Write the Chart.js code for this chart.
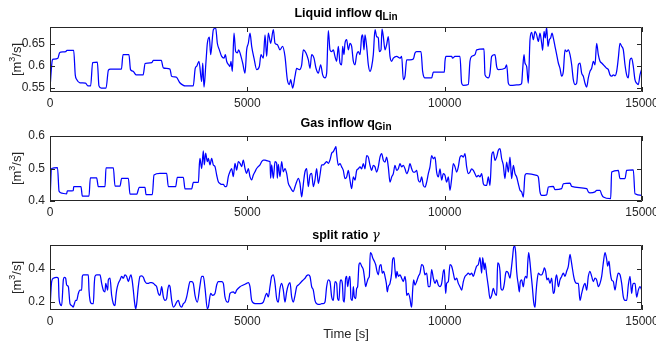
<!DOCTYPE html>
<html>
<head>
<meta charset="utf-8">
<script src="https://cdn.jsdelivr.net/npm/chart.js@4.4.1/dist/chart.umd.min.js"></script>
<style>
  html, body { margin: 0; padding: 0; background: #ffffff; }
  #wrap { position: relative; width: 656px; height: 344px; overflow: hidden; background: #ffffff; }
  #wrap canvas { position: absolute; left: 0; top: 0; }
</style>
</head>
<body>
<div id="wrap">
  <canvas id="liquid" width="656" height="344"></canvas>
  <canvas id="gas" width="656" height="344"></canvas>
  <canvas id="split" width="656" height="344"></canvas>
</div>
<script>
// ---- time axis ----
const timeTicks = [0, 5000, 10000, 15000];
const timeTickLabels = ['0', '5000', '10000', '15000'];

// ---- liquid inflow q_Lin [m^3/s] ----
const tLiquid = [0,60,90,200,240,270,400,430,600,640,680,760,900,960,1030,1080,1200,1240,1300,1420,1480,1530,1810,1850,2000,2040,2110,2180,2360,2410,2470,2580,2620,2820,2870,3040,3080,3200,3290,3380,3420,3630,3680,3720,3775,3843,3870,3902,3953,3987,4037,4071,4139,4198,4240,4291,4350,4409,4443,4476,4527,4561,4586,4620,4662,4704,4747,4781,4814,4882,4941,4983,5025,5068,5110,5169,5237,5304,5346,5405,5448,5490,5532,5591,5659,5701,5760,5828,5895,5954,6014,6064,6098,6149,6208,6250,6318,6377,6419,6486,6546,6588,6630,6689,6740,6799,6858,6909,6968,7010,7052,7094,7137,7179,7221,7263,7305,7348,7390,7415,7449,7474,7517,7559,7601,7643,7686,7728,7770,7812,7855,7897,7922,7956,7981,8023,8066,8108,8150,8192,8235,8277,8319,8344,8387,8412,8446,8488,8530,8572,8615,8657,8699,8784,8868,8910,8953,8995,9037,9121,9206,9248,9290,9400,9442,9501,9670,9713,9991,10008,10034,10177,10200,10260,10388,10430,10473,10599,10641,10684,10768,10811,10996,11022,11106,11148,11191,11275,11317,11360,11528,11571,11613,11655,11909,11951,11976,12010,12035,12078,12120,12162,12204,12246,12289,12331,12373,12415,12458,12483,12517,12550,12584,12618,12652,12686,12720,12753,12795,12838,12880,12922,12964,13007,13049,13091,13133,13176,13218,13260,13302,13344,13387,13429,13471,13513,13556,13598,13640,13682,13724,13767,13809,13851,13893,13936,13978,14020,14062,14105,14147,14189,14231,14273,14315,14358,14400,14442,14484,14527,14569,14611,14653,14695,14738,14780,14822,14864,14907,14949,15000];
const qLiquid = [0.550,0.614,0.616,0.618,0.630,0.632,0.633,0.636,0.636,0.580,0.569,0.562,0.561,0.555,0.555,0.608,0.609,0.555,0.550,0.550,0.591,0.593,0.593,0.626,0.626,0.592,0.588,0.580,0.580,0.606,0.607,0.608,0.613,0.613,0.596,0.593,0.577,0.575,0.562,0.556,0.555,0.555,0.595,0.600,0.611,0.565,0.607,0.552,0.611,0.652,0.666,0.626,0.683,0.687,0.652,0.637,0.622,0.618,0.626,0.611,0.603,0.599,0.611,0.588,0.675,0.633,0.630,0.637,0.630,0.607,0.584,0.637,0.652,0.675,0.645,0.618,0.592,0.599,0.626,0.618,0.671,0.622,0.675,0.652,0.683,0.652,0.649,0.637,0.645,0.622,0.569,0.558,0.569,0.550,0.577,0.595,0.592,0.603,0.637,0.630,0.614,0.595,0.626,0.618,0.595,0.584,0.603,0.580,0.573,0.584,0.681,0.637,0.633,0.637,0.622,0.611,0.645,0.607,0.603,0.645,0.626,0.652,0.660,0.637,0.652,0.645,0.611,0.603,0.626,0.633,0.626,0.667,0.671,0.637,0.671,0.645,0.603,0.588,0.599,0.626,0.683,0.667,0.664,0.633,0.637,0.684,0.667,0.637,0.649,0.667,0.622,0.611,0.618,0.622,0.618,0.622,0.569,0.577,0.614,0.614,0.616,0.630,0.633,0.633,0.588,0.573,0.573,0.586,0.586,0.611,0.622,0.622,0.618,0.622,0.622,0.561,0.556,0.558,0.611,0.622,0.626,0.637,0.639,0.580,0.573,0.584,0.622,0.626,0.599,0.592,0.595,0.603,0.561,0.556,0.558,0.561,0.592,0.626,0.607,0.599,0.561,0.660,0.677,0.660,0.679,0.671,0.656,0.675,0.652,0.636,0.679,0.664,0.688,0.645,0.660,0.664,0.675,0.664,0.645,0.626,0.607,0.595,0.577,0.588,0.637,0.633,0.637,0.626,0.603,0.569,0.558,0.561,0.603,0.607,0.584,0.577,0.561,0.552,0.573,0.588,0.595,0.611,0.603,0.652,0.626,0.611,0.607,0.603,0.599,0.595,0.592,0.580,0.577,0.580,0.578,0.588,0.618,0.652,0.645,0.637,0.603,0.580,0.573,0.614,0.618,0.599,0.569,0.561,0.558,0.580,0.595];
const liquidTicks = [0.55, 0.6, 0.65];
const liquidTickLabels = ['0.55', '0.6', '0.65'];

// ---- gas inflow q_Gin [m^3/s] ----
const tGas = [0,40,190,230,300,420,440,590,600,785,819,988,1022,1182,1225,1394,1419,1605,1647,1774,1816,1985,2027,2196,2263,2407,2432,2593,2635,2787,2956,2998,3184,3226,3378,3421,3590,3632,3760,3784,3800,3843,3885,3910,3944,3986,4012,4054,4096,4138,4180,4223,4265,4307,4349,4392,4434,4476,4518,4560,4603,4645,4687,4729,4772,4814,4856,4898,4941,4983,5025,5067,5110,5152,5194,5236,5278,5321,5363,5405,5447,5490,5532,5574,5591,5616,5659,5701,5743,5760,5785,5827,5870,5912,5954,5996,6039,6081,6123,6165,6208,6250,6292,6334,6376,6402,6436,6461,6503,6545,6588,6630,6672,6714,6756,6799,6841,6883,6925,6968,7010,7052,7094,7137,7179,7221,7246,7263,7305,7348,7390,7432,7474,7517,7559,7601,7643,7686,7728,7770,7812,7855,7897,7939,7981,8023,8066,8108,8150,8192,8235,8277,8319,8361,8404,8446,8488,8530,8572,8615,8657,8699,8741,8784,8826,8868,8910,8953,8995,9037,9079,9121,9164,9206,9248,9290,9333,9375,9417,9459,9501,9544,9586,9628,9670,9713,9755,9797,9839,9882,9924,9966,10008,10050,10093,10135,10177,10219,10262,10304,10346,10388,10430,10473,10515,10557,10599,10641,10684,10726,10768,10811,10853,10895,10937,10980,11022,11064,11106,11148,11191,11233,11275,11317,11360,11402,11444,11486,11528,11571,11613,11655,11697,11740,11782,11824,11866,11909,11951,11993,12035,12078,12331,12373,12415,12458,12584,12627,12753,12795,12964,13007,13176,13218,13598,13640,13682,13809,13851,13936,13978,14020,14206,14231,14400,14442,14569,14611,14780,14822,15000];
const qGas = [0.400,0.500,0.503,0.430,0.424,0.422,0.431,0.432,0.444,0.444,0.415,0.415,0.471,0.471,0.444,0.444,0.502,0.502,0.446,0.446,0.470,0.470,0.421,0.421,0.442,0.442,0.420,0.420,0.480,0.485,0.485,0.444,0.444,0.473,0.473,0.437,0.437,0.457,0.457,0.511,0.531,0.500,0.554,0.511,0.547,0.521,0.531,0.511,0.531,0.511,0.506,0.480,0.459,0.454,0.451,0.451,0.444,0.446,0.475,0.490,0.500,0.475,0.516,0.495,0.521,0.516,0.506,0.526,0.500,0.485,0.500,0.475,0.465,0.480,0.490,0.500,0.506,0.511,0.521,0.526,0.526,0.524,0.523,0.521,0.470,0.511,0.470,0.521,0.516,0.470,0.513,0.475,0.521,0.490,0.500,0.485,0.454,0.444,0.434,0.429,0.444,0.459,0.470,0.454,0.413,0.434,0.470,0.490,0.500,0.444,0.480,0.485,0.444,0.465,0.500,0.454,0.480,0.511,0.511,0.516,0.521,0.516,0.526,0.547,0.552,0.562,0.567,0.545,0.510,0.515,0.505,0.494,0.469,0.474,0.494,0.464,0.438,0.474,0.464,0.494,0.499,0.505,0.499,0.515,0.499,0.540,0.535,0.510,0.494,0.510,0.505,0.489,0.505,0.535,0.546,0.525,0.520,0.535,0.505,0.458,0.474,0.484,0.510,0.494,0.499,0.515,0.505,0.510,0.499,0.484,0.494,0.515,0.499,0.489,0.489,0.494,0.464,0.458,0.474,0.448,0.443,0.458,0.484,0.505,0.540,0.530,0.535,0.489,0.474,0.499,0.464,0.484,0.479,0.458,0.474,0.433,0.469,0.515,0.505,0.489,0.505,0.535,0.540,0.535,0.546,0.505,0.484,0.489,0.499,0.494,0.484,0.474,0.479,0.474,0.484,0.453,0.448,0.448,0.474,0.448,0.540,0.551,0.525,0.535,0.556,0.561,0.530,0.510,0.469,0.520,0.489,0.535,0.469,0.510,0.484,0.474,0.453,0.433,0.428,0.412,0.479,0.484,0.479,0.474,0.428,0.417,0.419,0.443,0.445,0.435,0.438,0.453,0.455,0.445,0.438,0.428,0.425,0.428,0.433,0.433,0.420,0.412,0.407,0.489,0.494,0.469,0.469,0.494,0.496,0.422,0.417];
const gasTicks = [0.4, 0.5, 0.6];
const gasTickLabels = ['0.4', '0.5', '0.6'];

// ---- split ratio gamma ----
const tSplit = [0,42,85,169,211,228,253,296,338,363,397,422,465,507,549,591,617,650,676,718,760,802,819,845,971,988,1014,1056,1098,1123,1140,1182,1267,1309,1351,1394,1411,1436,1461,1478,1520,1562,1605,1647,1664,1689,1731,1774,1816,1858,1900,1942,1985,2027,2052,2086,2111,2137,2171,2196,2238,2280,2323,2365,2407,2449,2492,2534,2576,2618,2660,2703,2745,2787,2829,2872,2914,2956,2981,3015,3041,3083,3125,3167,3209,3252,3294,3336,3378,3421,3463,3505,3547,3589,3631,3674,3733,3800,3843,3885,3930,3986,4012,4071,4121,4180,4223,4265,4349,4392,4434,4493,4518,4560,4645,4687,4729,4814,4898,4983,5025,5067,5110,5194,5278,5321,5405,5490,5532,5574,5616,5659,5701,5743,5785,5827,5870,5912,5954,5996,6039,6081,6123,6165,6208,6250,6292,6334,6376,6419,6461,6503,6545,6588,6630,6672,6714,6756,6799,6841,6883,6925,6968,7010,7052,7094,7137,7179,7221,7263,7289,7322,7348,7373,7407,7432,7457,7491,7517,7542,7576,7601,7626,7660,7686,7711,7745,7770,7795,7829,7855,7897,7939,7964,7998,8023,8066,8091,8116,8150,8175,8218,8251,8285,8319,8353,8387,8420,8454,8488,8522,8547,8572,8615,8657,8682,8716,8741,8767,8792,8826,8868,8910,8953,8995,9020,9037,9079,9121,9147,9164,9189,9214,9248,9290,9333,9375,9417,9459,9501,9544,9586,9628,9670,9713,9755,9797,9839,9882,9924,9966,9991,10025,10050,10093,10135,10177,10219,10262,10304,10346,10388,10430,10473,10515,10557,10599,10641,10684,10726,10768,10810,10853,10895,10937,10963,11005,11022,11064,11106,11149,11191,11233,11275,11318,11343,11377,11402,11427,11461,11487,11512,11546,11571,11613,11655,11681,11715,11748,11774,11799,11824,11867,11892,11917,11951,11993,12019,12052,12086,12103,12128,12154,12187,12221,12255,12289,12314,12340,12374,12416,12458,12500,12525,12559,12593,12627,12669,12711,12753,12779,12813,12838,12880,12922,12965,13007,13049,13091,13134,13176,13201,13235,13269,13302,13345,13387,13429,13471,13514,13556,13598,13640,13682,13725,13767,13809,13851,13894,13936,13978,14020,14063,14105,14130,14164,14198,14231,14274,14316,14358,14400,14443,14485,14527,14569,14612,14654,14696,14738,14764,14789,14823,14865,14907,14949,15000];
const gammaSplit = [0.160,0.324,0.344,0.350,0.344,0.231,0.190,0.179,0.334,0.350,0.344,0.303,0.293,0.190,0.179,0.169,0.190,0.210,0.210,0.252,0.272,0.272,0.355,0.365,0.365,0.272,0.210,0.190,0.190,0.313,0.355,0.365,0.365,0.313,0.272,0.262,0.313,0.293,0.272,0.334,0.344,0.241,0.190,0.179,0.221,0.272,0.313,0.334,0.355,0.344,0.365,0.355,0.324,0.355,0.365,0.324,0.272,0.210,0.159,0.190,0.293,0.355,0.359,0.350,0.324,0.313,0.313,0.318,0.318,0.313,0.303,0.293,0.252,0.241,0.293,0.231,0.210,0.221,0.272,0.303,0.293,0.210,0.169,0.179,0.200,0.210,0.179,0.169,0.190,0.200,0.231,0.282,0.324,0.324,0.313,0.241,0.200,0.300,0.355,0.355,0.280,0.159,0.169,0.252,0.241,0.252,0.303,0.324,0.324,0.313,0.231,0.200,0.200,0.252,0.262,0.252,0.272,0.293,0.303,0.313,0.318,0.293,0.210,0.190,0.190,0.190,0.200,0.252,0.231,0.293,0.355,0.365,0.313,0.221,0.200,0.282,0.313,0.272,0.200,0.262,0.303,0.318,0.231,0.200,0.241,0.293,0.303,0.313,0.324,0.334,0.344,0.359,0.365,0.355,0.293,0.272,0.210,0.190,0.186,0.186,0.190,0.190,0.200,0.293,0.334,0.324,0.231,0.210,0.324,0.313,0.221,0.210,0.313,0.334,0.313,0.210,0.200,0.344,0.355,0.293,0.344,0.355,0.221,0.210,0.293,0.231,0.221,0.282,0.293,0.427,0.437,0.417,0.396,0.355,0.293,0.313,0.344,0.355,0.499,0.489,0.468,0.447,0.427,0.386,0.365,0.417,0.427,0.375,0.386,0.355,0.313,0.262,0.293,0.313,0.375,0.458,0.468,0.396,0.344,0.386,0.355,0.365,0.344,0.324,0.355,0.313,0.241,0.252,0.221,0.179,0.169,0.272,0.334,0.303,0.324,0.355,0.375,0.427,0.417,0.365,0.375,0.293,0.293,0.396,0.344,0.313,0.334,0.303,0.293,0.313,0.386,0.396,0.252,0.313,0.324,0.427,0.417,0.375,0.334,0.344,0.313,0.293,0.272,0.324,0.355,0.365,0.375,0.365,0.375,0.355,0.386,0.417,0.427,0.468,0.375,0.468,0.396,0.437,0.365,0.293,0.221,0.241,0.282,0.252,0.241,0.437,0.427,0.386,0.282,0.272,0.282,0.313,0.375,0.386,0.375,0.344,0.386,0.458,0.530,0.540,0.499,0.386,0.303,0.262,0.324,0.334,0.293,0.334,0.355,0.344,0.427,0.499,0.458,0.375,0.293,0.200,0.169,0.252,0.324,0.375,0.365,0.365,0.386,0.406,0.386,0.334,0.344,0.313,0.344,0.252,0.262,0.344,0.365,0.293,0.334,0.355,0.375,0.355,0.386,0.417,0.489,0.458,0.406,0.355,0.324,0.313,0.313,0.210,0.252,0.293,0.313,0.272,0.355,0.386,0.355,0.324,0.344,0.334,0.293,0.313,0.355,0.437,0.499,0.458,0.417,0.447,0.375,0.334,0.324,0.272,0.334,0.375,0.365,0.313,0.231,0.210,0.210,0.303,0.355,0.252,0.303,0.313,0.313,0.230,0.272,0.293,0.270];
const splitTicks = [0.2, 0.4];
const splitTickLabels = ['0.2', '0.4'];

const FONT = "'Liberation Sans', Arial, Helvetica, sans-serif";
const AXIS_COLOR = '#262626';

// Box, inward tick marks, title, y label (and x label on the last panel)
const decorations = {
  id: 'decorations',
  afterDatasetsDraw(chart, args, opts) {
    const { ctx, chartArea: a, scales: { x, y } } = chart;
    ctx.save();
    ctx.strokeStyle = AXIS_COLOR;
    ctx.lineWidth = 1;
    ctx.beginPath();
    ctx.rect(a.left + 0.5, a.top + 0.5, a.right - a.left - 1, a.bottom - a.top - 1);
    ctx.stroke();
    const tl = 5;
    ctx.beginPath();
    x.ticks.forEach(t => {
      const px = Math.round(x.getPixelForValue(t.value)) + 0.5;
      ctx.moveTo(px, a.bottom); ctx.lineTo(px, a.bottom - tl);
      ctx.moveTo(px, a.top); ctx.lineTo(px, a.top + tl);
    });
    y.ticks.forEach(t => {
      const py = Math.round(y.getPixelForValue(t.value)) + 0.5;
      ctx.moveTo(a.left, py); ctx.lineTo(a.left + tl, py);
      ctx.moveTo(a.right, py); ctx.lineTo(a.right - tl, py);
    });
    ctx.stroke();

    // title with optional subscript / symbol
    const cx = (a.left + a.right) / 2;
    const parts = opts.title;
    let w = 0;
    parts.forEach(p => { ctx.font = p.font; p.w = ctx.measureText(p.text).width; w += p.w; });
    let xx = cx - w / 2;
    ctx.fillStyle = '#000000';
    ctx.textBaseline = 'alphabetic';
    ctx.textAlign = 'left';
    parts.forEach(p => {
      ctx.font = p.font;
      ctx.fillText(p.text, xx, a.top - opts.titleGap + (p.dy || 0));
      xx += p.w;
    });

    // y label "[m^3/s]" rotated
    ctx.save();
    ctx.translate(20.5, (a.top + a.bottom) / 2);
    ctx.rotate(-Math.PI / 2);
    ctx.fillStyle = AXIS_COLOR;
    const yl = [
      { text: '[m', font: `13px ${FONT}`, dy: 0 },
      { text: '3', font: `9px ${FONT}`, dy: -6 },
      { text: '/s]', font: `13px ${FONT}`, dy: 0 }
    ];
    let yw = 0;
    yl.forEach(p => { ctx.font = p.font; p.w = ctx.measureText(p.text).width; yw += p.w; });
    let yx = -yw / 2;
    yl.forEach(p => { ctx.font = p.font; ctx.fillText(p.text, yx, p.dy); yx += p.w; });
    ctx.restore();

    if (opts.xLabel) {
      ctx.font = `13px ${FONT}`;
      ctx.fillStyle = AXIS_COLOR;
      ctx.textAlign = 'center';
      ctx.fillText(opts.xLabel, cx, a.bottom + 28);
    }
    ctx.restore();
  }
};

function panel(id, t, v, yMin, yMax, yTicks, yLabels, top, bottom, title, titleGap, xLabel) {
  const tickFont = { family: FONT, size: 12 };
  return new Chart(document.getElementById(id), {
    type: 'line',
    data: {
      datasets: [{
        data: t.map((tt, i) => ({ x: tt, y: v[i] })),
        borderColor: '#0000ff',
        borderWidth: 1.25,
        pointRadius: 0,
        cubicInterpolationMode: 'monotone',
        fill: false
      }]
    },
    options: {
      responsive: false,
      animation: false,
      devicePixelRatio: 1,
      events: [],
      layout: { autoPadding: false, padding: { left: 0, right: 14, top: top, bottom: 344 - bottom - 20 } },
      plugins: {
        legend: { display: false },
        tooltip: { enabled: false },
        title: { display: false },
        decorations: { title: title, titleGap: titleGap, xLabel: xLabel }
      },
      scales: {
        x: {
          type: 'linear', min: 0, max: 15000,
          afterBuildTicks: s => { s.ticks = timeTicks.map(val => ({ value: val })); },
          ticks: { font: tickFont, color: AXIS_COLOR, padding: 4, maxRotation: 0, autoSkip: false,
                   callback: (val, i) => timeTickLabels[i] },
          grid: { display: false, drawTicks: false },
          border: { display: false },
          afterFit: s => { s.height = 20; s.paddingLeft = 0; s.paddingRight = 0; }
        },
        y: {
          type: 'linear', min: yMin, max: yMax,
          afterBuildTicks: s => { s.ticks = yTicks.map(val => ({ value: val })); },
          ticks: { font: tickFont, color: AXIS_COLOR, padding: 5, autoSkip: false,
                   callback: (val, i) => yLabels[i] },
          grid: { display: false, drawTicks: false },
          border: { display: false },
          afterFit: s => { s.width = 50; s.paddingTop = 0; s.paddingBottom = 0; }
        }
      }
    },
    plugins: [decorations]
  });
}

const bold = `bold 12.5px ${FONT}`;
const subBold = `bold 10px ${FONT}`;

panel('liquid', tLiquid, qLiquid, 0.541, 0.689, liquidTicks, liquidTickLabels, 27, 92,
  [{ text: 'Liquid inflow q', font: bold }, { text: 'Lin', font: subBold, dy: 3 }], 10, null);
panel('gas', tGas, qGas, 0.4, 0.6, gasTicks, gasTickLabels, 136, 201,
  [{ text: 'Gas inflow q', font: bold }, { text: 'Gin', font: subBold, dy: 3 }], 9, null);
panel('split', tSplit, gammaSplit, 0.152, 0.545, splitTicks, splitTickLabels, 245, 310,
  [{ text: 'split ratio ', font: bold }, { text: 'γ', font: `italic 13px 'DejaVu Serif', serif` }], 6, 'Time [s]');
</script>
</body>
</html>
